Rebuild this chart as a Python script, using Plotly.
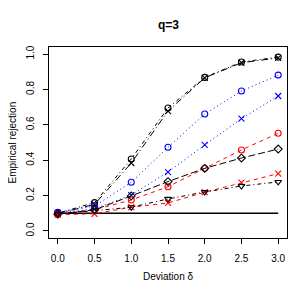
import plotly.graph_objects as go

deviation = [0.0, 0.5, 1.0, 1.5, 2.0, 2.5, 3.0]
nominal_level = 0.1

black_circle = [0.100, 0.160, 0.407, 0.695, 0.868, 0.955, 0.983]
black_x      = [0.098, 0.150, 0.384, 0.678, 0.866, 0.951, 0.978]
blue_circle  = [0.105, 0.140, 0.275, 0.473, 0.661, 0.791, 0.881]
blue_x       = [0.102, 0.125, 0.203, 0.333, 0.486, 0.635, 0.763]
red_circle   = [0.095, 0.120, 0.175, 0.250, 0.354, 0.458, 0.552]
black_diam   = [0.095, 0.119, 0.198, 0.279, 0.354, 0.412, 0.463]
red_x        = [0.092, 0.097, 0.134, 0.158, 0.219, 0.273, 0.324]
black_tri    = [0.095, 0.115, 0.134, 0.181, 0.220, 0.254, 0.277]

series = [
    (black_circle, "black", "circle-open", "1px,3px,4px,3px"),
    (black_x, "black", "x-thin-open", "7px,3px,1px,3px"),
    (blue_circle, "blue", "circle-open", "1px,3px"),
    (blue_x, "blue", "x-thin-open", "1px,3px"),
    (red_circle, "red", "circle-open", "4px,4px"),
    (black_diam, "black", "diamond-open", "7px,3px"),
    (red_x, "red", "x-thin-open", "4px,4px"),
    (black_tri, "black", "triangle-down-open", "1px,3px,4px,3px"),
]

fig = go.Figure()
fig.add_trace(go.Scatter(x=[deviation[0], deviation[-1]], y=[nominal_level, nominal_level],
                         mode="lines", line=dict(color="black", width=1.3),
                         showlegend=False, hoverinfo="skip"))
for ys, col, sym, dash in series:
    fig.add_trace(go.Scatter(
        x=deviation, y=ys, mode="lines+markers",
        line=dict(color=col, width=1, dash=dash),
        marker=dict(symbol=sym, size=6, color=col, line=dict(color=col, width=1.1)),
        showlegend=False))

font = "Liberation Sans, Arial, sans-serif"
fig.update_layout(
    width=292, height=292,
    margin=dict(l=41, r=13, t=39, b=62, autoexpand=False),
    paper_bgcolor="white", plot_bgcolor="white",
    font=dict(family=font, size=10, color="black"),
    xaxis=dict(range=[-0.12, 3.12], tickvals=deviation,
               ticktext=["0.0", "0.5", "1.0", "1.5", "2.0", "2.5", "3.0"],
               showgrid=False, zeroline=False, showline=True, mirror=True,
               linecolor="black", linewidth=1, ticks="outside", ticklen=5,
               tickcolor="black", tickfont=dict(size=10), automargin=False,
               ticklabelstandoff=6),
    yaxis=dict(range=[-0.04, 1.04], tickvals=[0, 0.2, 0.4, 0.6, 0.8, 1.0],
               ticktext=["0.0", "0.2", "0.4", "0.6", "0.8", "1.0"],
               showgrid=False, zeroline=False, showline=True, mirror=True,
               linecolor="black", linewidth=1, ticks="outside", ticklen=5,
               tickcolor="black", tickangle=-90, tickfont=dict(size=10), automargin=False,
               ticklabelstandoff=5),
    annotations=[
        dict(text="<b>q=3</b>", xref="paper", yref="paper", x=0.5, y=1.0,
             yshift=22, xanchor="center", yanchor="middle", showarrow=False,
             font=dict(size=12, family=font)),
        dict(text="Deviation δ", xref="paper", yref="paper", x=0.5, y=0,
             yshift=-38, xanchor="center", yanchor="middle", showarrow=False,
             font=dict(size=10, family=font)),
        dict(text="Empirical rejection", xref="paper", yref="paper", x=0, y=0.5,
             xshift=-37, xanchor="center", yanchor="middle", textangle=-90,
             showarrow=False, font=dict(size=10, family=font)),
    ],
)

fig.write_html("out.html")
